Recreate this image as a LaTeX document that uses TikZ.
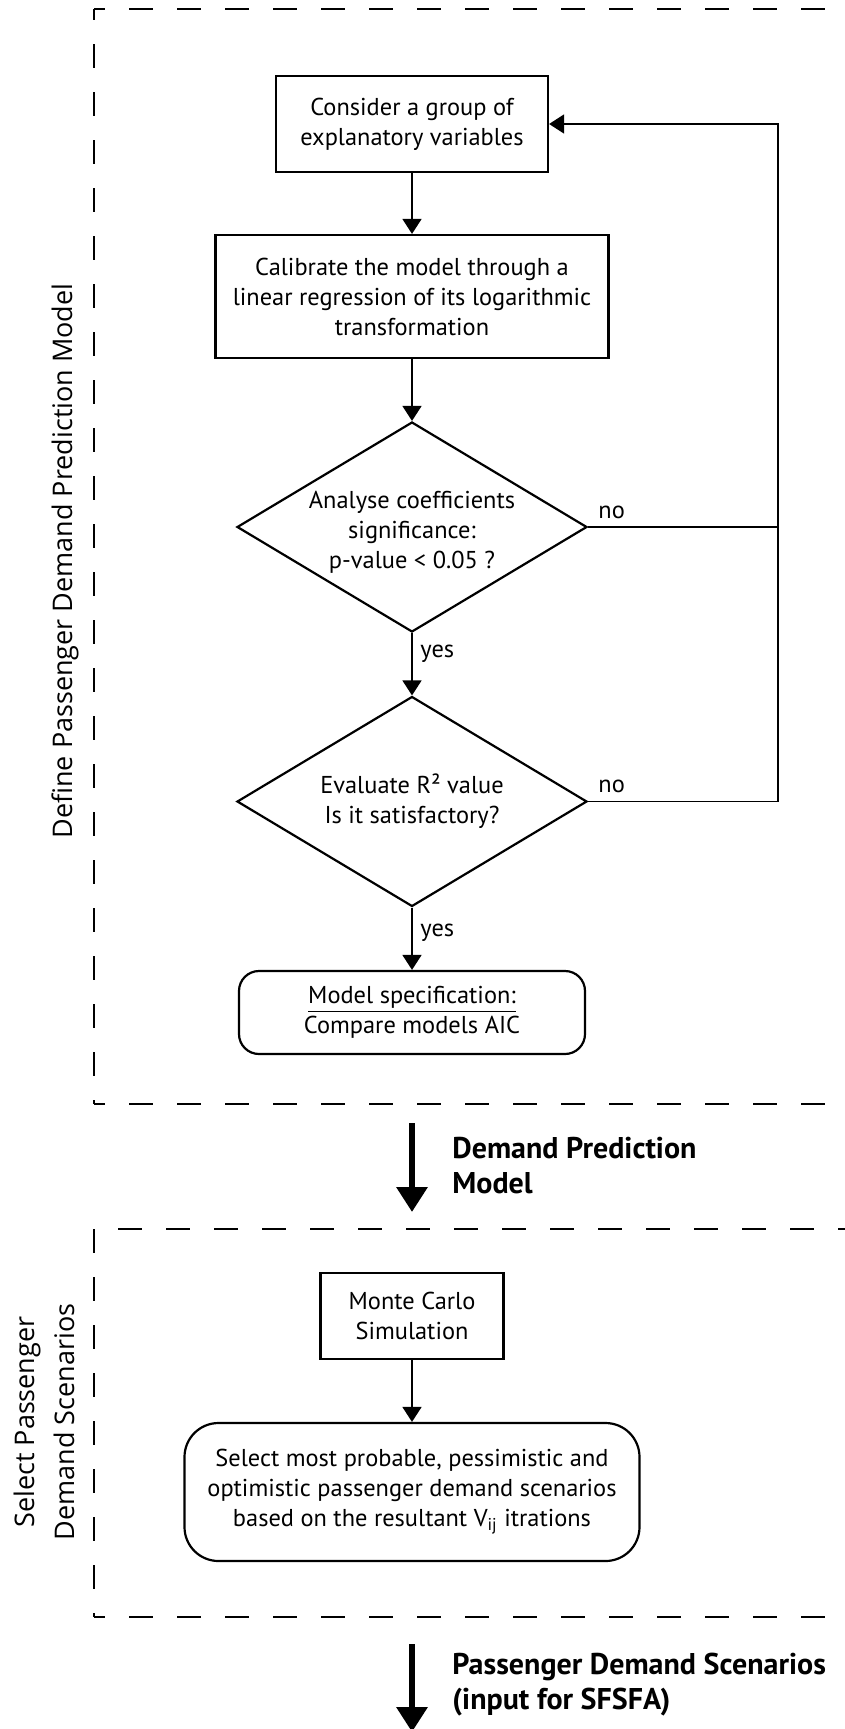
\documentclass[tikz,border=0pt]{standalone}
\usepackage{fontspec}
\setmainfont{PT Sans}
\newfontfamily\sidefont{Open Sans}
\usetikzlibrary{shapes.geometric,arrows.meta}
\begin{document}
\begin{tikzpicture}[x=0.5pt,y=-0.5pt,
  every node/.style={font=\fontsize{12.2}{15}\selectfont},
  box/.style={draw,line width=1.1pt,align=center,inner sep=0pt},
  rbox/.style={box,rounded corners=#1},
  dia/.style={draw,line width=1.1pt,diamond,inner sep=0pt,minimum width=175pt,minimum height=105pt},
  dtext/.style={align=center,inner sep=0pt},
  conn/.style={line width=0.8pt,-{Triangle[width=9.5pt,length=7.5pt]}},
  plain/.style={line width=0.8pt},
  lbl/.style={inner sep=0pt},
  bigarrow/.style={line width=3.25pt,-{Triangle[width=15pt,length=12.5pt]}},
  biglbl/.style={font=\bfseries\fontsize{15}{17.5}\selectfont,align=left,inner sep=0pt},
  side/.style={font=\sidefont\fontsize{13.5}{20}\selectfont,rotate=90,align=center,inner sep=0pt},
  frame/.style={line width=0.8pt,dash pattern=on 12pt off 12pt}
]
\useasboundingbox (0,0) rectangle (845,1729);

% dashed frames
\draw[frame,dash phase=6.5pt] (94,9) -- (94,1104);
\draw[frame,dash phase=6.5pt] (94,9) -- (870,9);
\draw[frame,dash phase=6.5pt] (94,1104) -- (870,1104);
\draw[frame] (94,1229) -- (94,1617);
\draw[frame,dash phase=12pt] (94,1229) -- (870,1229);
\draw[frame,dash phase=6.5pt] (94,1617) -- (870,1617);

% side labels
\node[side] (s1) at (65,561) {Define Passenger Demand Prediction Model};
\node[side] (s2) at (44,1422) {Select Passenger\\Demand Scenarios};

% nodes
\node[box,minimum width=136pt,minimum height=48pt] (A) at (412,124) {Consider a group of\\explanatory variables};
\node[box,minimum width=196.5pt,minimum height=61.5pt] (B) at (412,296.5) {Calibrate the model through a\\linear regression of its logarithmic\\transformation};
\node[dia] (D1) at (412,527) {};
\node[dtext] (D1t) at (412,532) {Analyse coefficients\\significance:\\p-value < 0.05 ?};
\node[dia] (D2) at (412,801.5) {};
\node[dtext] (D2t) at (412,801) {Evaluate R² value\\Is it satisfactory?};
\node[rbox=10pt,minimum width=173pt,minimum height=41.5pt] (E) at (412,1012.5) {\underline{Model specification:}\\Compare models AIC};
\node[box,minimum width=91.5pt,minimum height=43pt] (F) at (412,1316) {Monte Carlo\\Simulation};
\node[rbox=17pt,minimum width=227.5pt,minimum height=69pt] (G) at (412,1492) {Select most probable, pessimistic and\\optimistic passenger demand scenarios\\based on the resultant V\textsubscript{ij} itrations};

\coordinate (rt) at (778,124);

% connectors
\draw[conn] (A) -- (B);
\draw[conn] (B) -- (D1.north);
\draw[conn] (D1.south) -- (D2.north);
\draw[conn] (D2.south) -- (E);
\draw[conn] (F) -- (G);
\draw[plain] (D1.east) -- (D1.east -| rt);
\draw[conn] (D2.east) -| (rt) -- (A.east);

\node[lbl,anchor=base west] (no1) at (598,518) {no};
\node[lbl,anchor=base west] (no2) at (598,792) {no};
\node[lbl,anchor=base west] (yes1) at (420,657) {yes};
\node[lbl,anchor=base west] (yes2) at (420,936) {yes};

% big arrows
\coordinate (ba1s) at (412,1123);
\coordinate (ba1e) at (412,1212);
\coordinate (ba2s) at (412,1644);
\coordinate (ba2e) at (412,1732);
\draw[bigarrow] (ba1s) -- (ba1e);
\draw[bigarrow] (ba2s) -- (ba2e);
\node[biglbl,anchor=west] (L1) at (452,1166) {Demand Prediction\\Model};
\node[biglbl,anchor=west] (L2) at (452,1685) {Passenger Demand Scenarios\\(input for SFSFA)};
\end{tikzpicture}
\end{document}
